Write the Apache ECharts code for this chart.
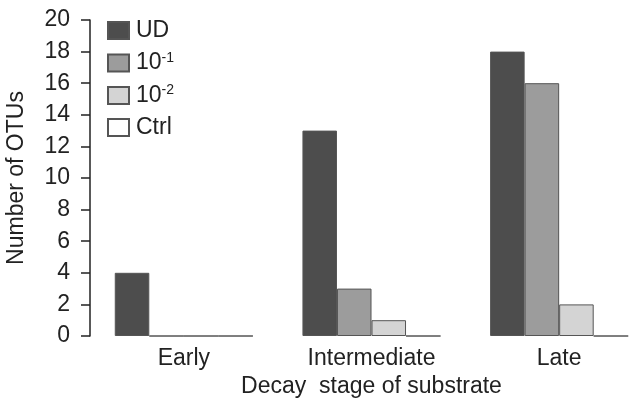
<!DOCTYPE html>
<html>
<head>
<meta charset="utf-8">
<script src="https://cdn.jsdelivr.net/npm/echarts@6/dist/echarts.min.js"></script>
<style>html,body{margin:0;padding:0;background:#fff;overflow:hidden}#c{width:660px;height:406px}</style>
</head>
<body>
<div id="c"></div>
<script>
var categories = ['Early', 'Intermediate', 'Late'];
var seriesNames = ['UD', '10{sup|-1}', '10{sup|-2}', 'Ctrl'];
var udValues = [4, 13, 18];
var d1Values = [0, 3, 16];
var d2Values = [0, 1, 2];
var ctrlValues = [0, 0, 0];
var yTicks = [0, 2, 4, 6, 8, 10, 12, 14, 16, 18, 20];

var colors = ['#4d4d4d', '#9c9c9c', '#d4d4d4', '#ffffff'];
var allValues = [udValues, d1Values, d2Values, ctrlValues];
var font = 'Liberation Sans, Arial, sans-serif';
var txt = '#222';

var chart = echarts.init(document.getElementById('c'));
chart.setOption({
  animation: false,
  textStyle: { fontFamily: font },
  grid: { left: 90, width: 563, top: 20, bottom: 70, containLabel: false, outerBoundsMode: 'none' },
  legend: {
    orient: 'vertical', left: 102, top: 14,
    itemWidth: 21, itemHeight: 17, itemGap: 9,
    icon: 'rect',
    textStyle: {
      fontSize: 23, color: txt, fontFamily: font, padding: [0, 0, 0, 2],
      rich: { sup: { fontSize: 14, verticalAlign: 'top', padding: [0, 0, 10, 0], color: txt, fontFamily: font } }
    },
    data: seriesNames
  },
  xAxis: {
    type: 'category', data: categories,
    axisLine: { show: false }, axisTick: { show: false },
    axisLabel: { fontSize: 23, color: txt, margin: 11, fontFamily: font },
    name: 'Decay  stage of substrate', nameLocation: 'middle', nameGap: 36,
    nameTextStyle: { fontSize: 23, color: txt, fontFamily: font }
  },
  yAxis: {
    type: 'value', min: yTicks[0], max: yTicks[yTicks.length - 1], interval: 2,
    axisLine: { show: true, lineStyle: { color: txt, width: 1.5 } },
    axisTick: { show: true, length: 9, lineStyle: { color: txt, width: 1.5 } },
    splitLine: { show: false },
    axisLabel: { fontSize: 23, color: txt, margin: 20, fontFamily: font, padding: [0, 0, 6, 0] },
    name: 'Number of OTUs', nameLocation: 'middle', nameGap: 62,
    nameTextStyle: { fontSize: 23, color: txt, fontFamily: font }
  },
  series: seriesNames.map(function (n, i) {
    return {
      name: n, type: 'bar', data: allValues[i],
      barGap: '0%', barCategoryGap: '26.4%',
      itemStyle: { color: colors[i], borderColor: '#555', borderWidth: 1 }
    };
  })
});
</script>
</body>
</html>
